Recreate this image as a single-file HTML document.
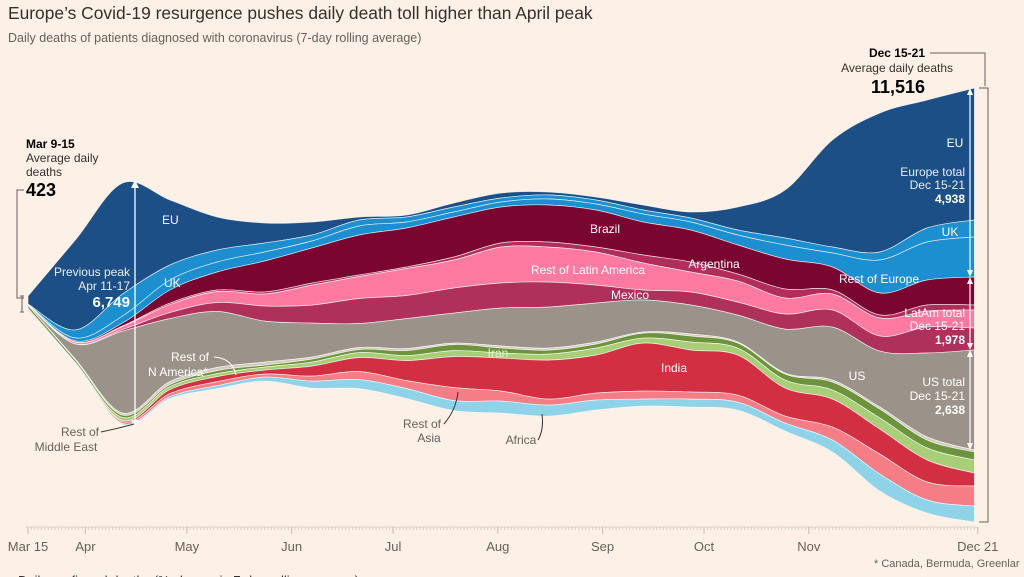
<!DOCTYPE html>
<html><head><meta charset="utf-8"><style>
html,body{margin:0;padding:0;background:#fdf0e6;}
svg{display:block;font-family:"Liberation Sans",sans-serif;}
</style></head><body>
<svg id="chart" width="1024" height="577" viewBox="0 0 1024 577" xmlns="http://www.w3.org/2000/svg">
<rect width="1024" height="577" fill="#fdf0e6"/>
<text x="8" y="19" font-size="17.4" fill="#33302e">Europe’s Covid-19 resurgence pushes daily death toll higher than April peak</text>
<text x="8" y="42" font-size="12.5" fill="#66605c">Daily deaths of patients diagnosed with coronavirus (7-day rolling average)</text>
<g id="layers"></g>
<g id="axis"></g>
<g id="annot" font-size="12">
  <text x="26" y="148" font-weight="bold" fill="#000">Mar 9-15</text>
  <text x="26" y="162" fill="#33302e">Average daily</text>
  <text x="26" y="176" fill="#33302e">deaths</text>
  <text x="26" y="196" font-size="18" font-weight="bold" fill="#000">423</text>
  <path d="M24 190 H17 V298 H24 M22 296 V312 M20 296 H24 M20 312 H24" stroke="#66605c" fill="none" stroke-width="1"/>
  <g stroke="#fff" stroke-width="1.3" fill="#fff">
    <line x1="135" y1="182" x2="135" y2="426"/>
    <path d="M131 188 L135 180 L139 188Z M131 420 L135 428 L139 420Z" stroke="none"/>
  </g>
  <text x="130" y="276" text-anchor="end" fill="#e8eef5">Previous peak</text>
  <text x="130" y="290" text-anchor="end" fill="#e8eef5">Apr 11-17</text>
  <text x="130" y="307" text-anchor="end" font-size="15" font-weight="bold" fill="#fff">6,749</text>
  <text x="162" y="224" fill="#fff">EU</text>
  <text x="164" y="287" fill="#fff">UK</text>
  <text x="190" y="361" fill="#fff" text-anchor="middle">Rest of</text>
  <text x="178" y="376" fill="#fff" text-anchor="middle">N America*</text>
  <path d="M214 357 Q232 358 236 375" stroke="#fff" fill="none"/>
  <text x="80" y="436" fill="#66605c" text-anchor="middle">Rest of</text>
  <text x="66" y="451" fill="#66605c" text-anchor="middle">Middle East</text>
  <path d="M101 432 Q120 428 134 424" stroke="#33302e" fill="none"/>
  <text x="605" y="233" fill="#fff" text-anchor="middle">Brazil</text>
  <text x="588" y="274" fill="#fff" text-anchor="middle">Rest of Latin America</text>
  <text x="714" y="268" fill="#fff" text-anchor="middle">Argentina</text>
  <text x="630" y="299" fill="#fff" text-anchor="middle">Mexico</text>
  <text x="498" y="357" fill="#e8f0d8" text-anchor="middle">Iran</text>
  <text x="674" y="372" fill="#fff" text-anchor="middle">India</text>
  <text x="422" y="428" fill="#66605c" text-anchor="middle">Rest of</text>
  <text x="429" y="442" fill="#66605c" text-anchor="middle">Asia</text>
  <path d="M444 424 Q456 410 458 392" stroke="#33302e" fill="none"/>
  <text x="521" y="444" fill="#66605c" text-anchor="middle">Africa</text>
  <path d="M538 440 Q544 430 542 414" stroke="#33302e" fill="none"/>
  <text x="857" y="380" fill="#fff" text-anchor="middle">US</text>
  <text x="925" y="57" text-anchor="end" font-weight="bold" fill="#000">Dec 15-21</text>
  <text x="953" y="72" text-anchor="end" fill="#33302e">Average daily deaths</text>
  <text x="925" y="93" text-anchor="end" font-size="18" font-weight="bold" fill="#000">11,516</text>
  <path d="M930 53 H985 V86 M979 88 H988 V522 H979" stroke="#66605c" fill="none"/>
  <g stroke="#fff" stroke-width="1.2" fill="#fff">
    <line x1="970" y1="90" x2="970" y2="275"/><line x1="970" y1="279" x2="970" y2="348"/><line x1="970" y1="352" x2="970" y2="448"/>
    <path d="M967 95 L970 88 L973 95Z M967 270 L970 277 L973 270Z M967 284 L970 277 L973 284Z M967 343 L970 350 L973 343Z M967 357 L970 350 L973 357Z M967 443 L970 450 L973 443Z" stroke="none"/>
  </g>
  <text x="955" y="147" fill="#fff" text-anchor="middle">EU</text>
  <text x="965" y="176" fill="#e8eef5" text-anchor="end">Europe total</text>
  <text x="965" y="189" fill="#e8eef5" text-anchor="end">Dec 15-21</text>
  <text x="965" y="203" fill="#fff" font-weight="bold" text-anchor="end">4,938</text>
  <text x="950" y="236" fill="#fff" text-anchor="middle">UK</text>
  <text x="879" y="283" fill="#fff" text-anchor="middle">Rest of Europe</text>
  <text x="965" y="317" fill="#fff" text-anchor="end">LatAm total</text>
  <text x="965" y="330" fill="#fff" text-anchor="end">Dec 15-21</text>
  <text x="965" y="344" fill="#fff" font-weight="bold" text-anchor="end">1,978</text>
  <text x="965" y="386" fill="#fff" text-anchor="end">US total</text>
  <text x="965" y="400" fill="#fff" text-anchor="end">Dec 15-21</text>
  <text x="965" y="414" fill="#fff" font-weight="bold" text-anchor="end">2,638</text>
  <text x="874" y="567" font-size="11" fill="#66605c">* Canada, Bermuda, Greenlar</text>
  <text x="18" y="585" font-size="13" fill="#33302e">Daily confirmed deaths (% change in 7-day rolling average)</text>
</g>
</svg>
<script>
// day offsets from Mar 15 (every 14 days)
const days = [0,14,28,42,56,70,84,98,112,126,140,154,168,182,196,210,224,238,252,266,280];
// stream top edge, in deaths above zero line
const topEdge = [6466,7950,9461,9010,8560,8401,8427,8560,8613,8931,9196,9222,9090,8878,8692,8825,9275,10600,11316,11660,11978];
const layerNames = ['eu','uk','rest-of-europe','brazil','argentina','rest-of-latin-america','mexico','us','rest-of-n-america','iran','rest-of-middle-east','india','rest-of-asia','africa'];
const eu = [212,2385,2942,1723,875,530,345,80,53,106,133,80,80,133,159,610,1272,2836,3684,3392,3498];
const uk = [8,212,583,398,318,239,159,159,133,133,106,106,106,106,106,133,186,159,212,371,451];
const restEurope = [13,80,186,265,265,239,186,239,159,133,133,159,159,212,212,265,371,371,875,1007,1060];
const brazil = [0,27,80,345,477,822,928,1060,1034,1060,954,981,981,875,848,769,795,610,583,663,742];
const argentina = [0,8,13,40,40,53,53,40,40,80,106,133,133,212,265,186,239,106,80,159,133];
const restLatAm = [0,40,80,212,292,318,530,583,716,742,954,928,875,716,530,557,424,424,477,424,477];
const mexico = [0,5,40,159,239,398,477,663,610,663,663,663,477,265,345,345,398,451,398,689,583];
const us = [13,398,2173,1670,1484,1087,901,636,795,795,1007,1087,1034,848,769,716,1166,1405,1484,2226,2650];
const restNAmerica = [3,27,53,80,80,80,53,53,53,40,53,53,53,27,53,27,27,53,53,80,53];
const iran = [80,66,66,53,80,53,80,80,133,159,133,106,106,133,159,133,159,212,239,212,212];
const restMiddleEast = [8,13,80,80,80,80,106,133,133,159,133,159,186,133,212,186,212,239,292,318,345];
const india = [0,5,27,106,133,106,265,371,530,822,875,1034,1007,1272,1113,1060,742,742,663,583,345];
const restAsia = [40,27,53,80,106,80,133,212,212,345,265,159,186,212,186,186,186,345,530,477,530];
const africa = [0,8,27,53,80,106,186,239,265,265,318,292,265,186,212,212,212,318,451,345,424];
const tickLabels = ['Mar 15','Apr','May','Jun','Jul','Aug','Sep','Oct','Nov','Dec 21'];
const tickDays = [0,17,47,78,108,139,170,200,231,281];

const series = [eu,uk,restEurope,brazil,argentina,restLatAm,mexico,us,restNAmerica,iran,restMiddleEast,india,restAsia,africa];
const colors = ['#1b4f86','#1d8fcf','#1b8fcf','#7a0530','#b02d5c','#ff7aa0','#b0305c','#9b938a','#d3cbc1','#6e933d','#a8cf78','#d32f42','#f47d86','#8fd3e8'];
const NS='http://www.w3.org/2000/svg';
const xScale = d => 28 + d*3.38;
const yScale = v => 540 - v/26.5;

function curve(pts){
  let s='';
  for(let i=0;i<pts.length-1;i++){
    const p0=pts[Math.max(0,i-1)],p1=pts[i],p2=pts[i+1],p3=pts[Math.min(pts.length-1,i+2)];
    const c1=[p1[0]+(p2[0]-p0[0])/6,p1[1]+(p2[1]-p0[1])/6];
    const c2=[p2[0]-(p3[0]-p1[0])/6,p2[1]-(p3[1]-p1[1])/6];
    s+=` C${c1[0].toFixed(1)} ${c1[1].toFixed(1)} ${c2[0].toFixed(1)} ${c2[1].toFixed(1)} ${p2[0].toFixed(1)} ${p2[1].toFixed(1)}`;
  }
  return s;
}
const g=document.getElementById('layers');
let upper = topEdge.slice();
series.forEach((vals,li)=>{
  const lower = upper.map((u,i)=>u-vals[i]);
  const top = days.map((d,i)=>[xScale(d),yScale(upper[i])]);
  const bot = days.map((d,i)=>[xScale(d),yScale(lower[i])]).reverse();
  const dStr = `M${top[0][0]} ${top[0][1]}`+curve(top)+` L${bot[0][0]} ${bot[0][1]}`+curve(bot)+'Z';
  const p=document.createElementNS(NS,'path');
  p.setAttribute('d',dStr);
  p.setAttribute('fill',colors[li]);
  p.setAttribute('stroke','rgba(255,255,255,0.75)');
  p.setAttribute('stroke-width','0.7');
  
  
  g.appendChild(p);
  upper = lower;
});
const ax=document.getElementById('axis');
let axs='M25 527 H978';
for(let d=0; d<=281; d++){ axs+=` M${xScale(d).toFixed(1)} 527 V530`; }
const line=document.createElementNS(NS,'path');
line.setAttribute('d',axs);line.setAttribute('stroke','#d6cbc0');line.setAttribute('stroke-width','0.8');line.setAttribute('fill','none');


ax.appendChild(line);
tickDays.forEach((d,i)=>{
  const t=document.createElementNS(NS,'line');
  t.setAttribute('x1',xScale(d));t.setAttribute('x2',xScale(d));t.setAttribute('y1',527);t.setAttribute('y2',534);
  t.setAttribute('stroke','#c8bdb2');
  
  
  ax.appendChild(t);
  const tx=document.createElementNS(NS,'text');
  tx.setAttribute('x',xScale(d));tx.setAttribute('y',551);tx.setAttribute('text-anchor','middle');
  tx.setAttribute('font-size','13');tx.setAttribute('fill','#66605c');
  tx.textContent=tickLabels[i];
  
  
  ax.appendChild(tx);
});
const svg=document.getElementById('chart');
svg.appendChild(document.getElementById('annot'));
</script>
</body></html>
